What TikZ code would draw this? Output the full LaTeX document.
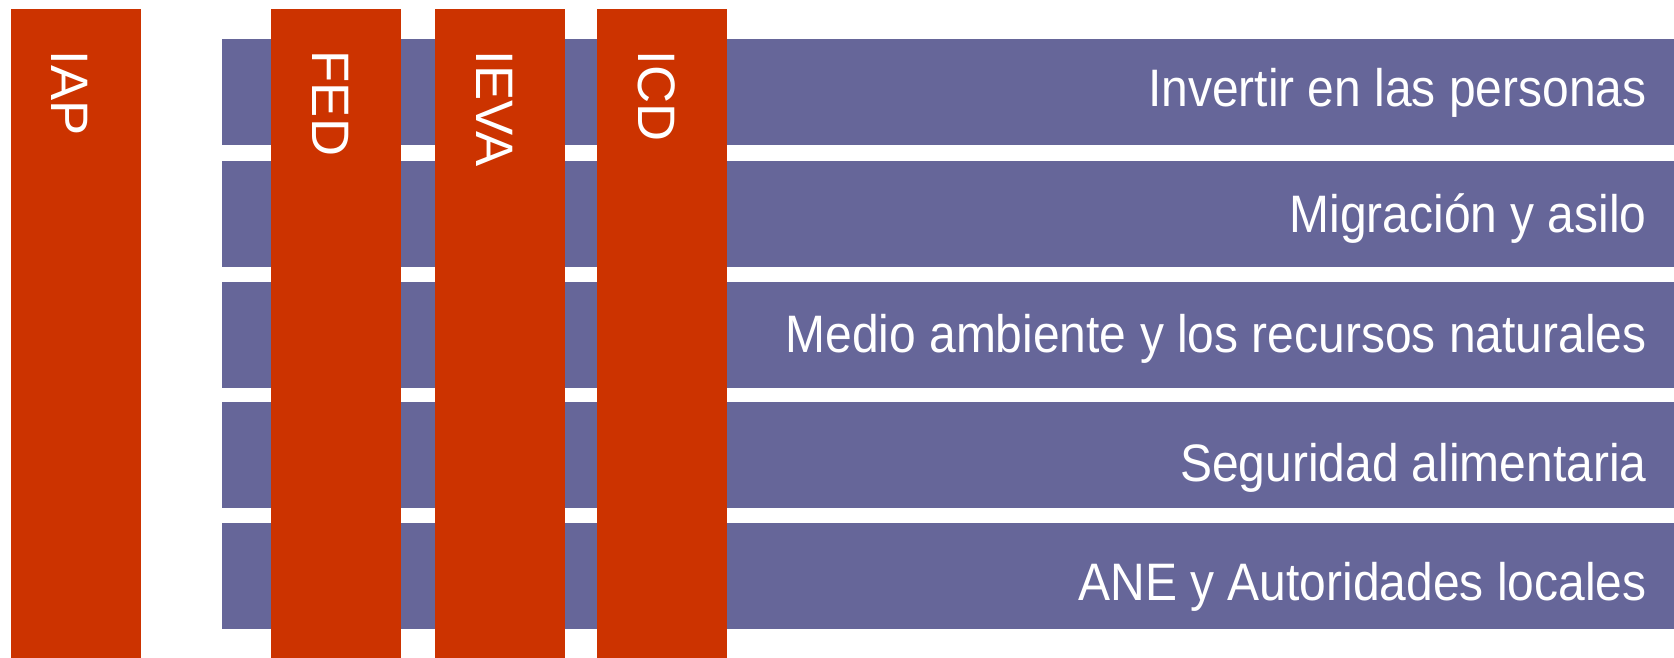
\documentclass[tikz,border=0pt]{standalone}
\usepackage{fontspec}
\setmainfont{Liberation Sans}
\newfontfamily\areafont{Liberation Sans}[FakeStretch=0.91]
\definecolor{instred}{RGB}{204, 51, 0}
\definecolor{areablue}{RGB}{102, 102, 153}
\usetikzlibrary{positioning, calc}

\begin{document}
\begin{tikzpicture}[
  areabox/.style={fill=areablue, draw=none, anchor=north west, minimum width=14.52cm, minimum height=1.06cm, inner sep=0pt},
  arealabel/.style={anchor=base east, inner sep=0pt, text=white, font=\areafont\fontsize{15}{18}\selectfont},
  instbar/.style={fill=instred, draw=none, anchor=north west, minimum width=1.305cm, minimum height=6.49cm, inner sep=0pt},
  instlabel/.style={anchor=base west, rotate=-90, inner sep=0pt, text=white, font=\fontsize{15}{18}\selectfont}
]
  \useasboundingbox (0, 0) rectangle (16.74, -6.57);
  % thematic rows
  \node[areabox] (row1) at (2.21, -0.38) {};
  \node[areabox] (row2) at (2.21, -1.60) {};
  \node[areabox] (row3) at (2.21, -2.81) {};
  \node[areabox] (row4) at (2.21, -4.01) {};
  \node[areabox] (row5) at (2.21, -5.22) {};
  \node[arealabel] (lbl1) at ($(row1.south east)+(-0.27, 0.385)$) {Invertir en las personas};
  \node[arealabel] (lbl2) at ($(row2.south east)+(-0.27, 0.35)$) {Migración y asilo};
  \node[arealabel] (lbl3) at ($(row3.south east)+(-0.27, 0.36)$) {Medio ambiente y los recursos naturales};
  \node[arealabel] (lbl4) at ($(row4.south east)+(-0.27, 0.265)$) {Seguridad alimentaria};
  \node[arealabel] (lbl5) at ($(row5.south east)+(-0.27, 0.285)$) {ANE y Autoridades locales};
  % instruments
  \node[instbar] (iap) at (0.10, -0.08) {};
  \node[instbar] (fed) at (2.70, -0.08) {};
  \node[instbar] (ieva) at (4.34, -0.08) {};
  \node[instbar] (icd) at (5.96, -0.08) {};
  \node[instlabel] (iaplbl) at ($(iap.north west)+(0.42, -0.42)$) {IAP};
  \node[instlabel] (fedlbl) at ($(fed.north west)+(0.42, -0.42)$) {FED};
  \node[instlabel] (ievalbl) at ($(ieva.north west)+(0.42, -0.42)$) {IEVA};
  \node[instlabel] (icdlbl) at ($(icd.north west)+(0.42, -0.42)$) {ICD};
\end{tikzpicture}
\end{document}
